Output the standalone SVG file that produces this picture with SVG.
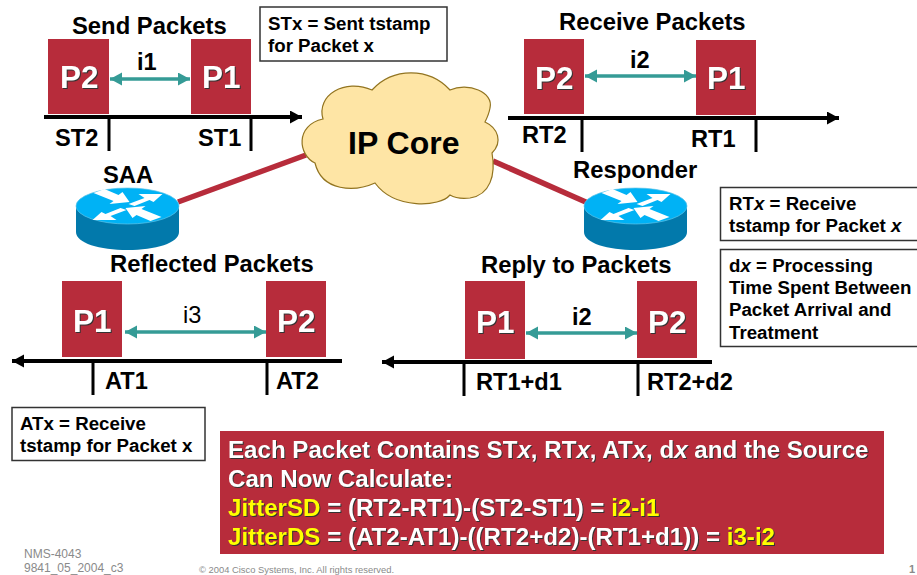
<svg xmlns="http://www.w3.org/2000/svg" width="917" height="575" viewBox="0 0 917 575">
<style>
text{font-family:"Liberation Sans",Arial,sans-serif;font-weight:bold;fill:#000}
.h{font-size:23.8px}
.l{font-size:23.6px}
.b{font-size:18.7px}
.p{font-size:31.5px;fill:#fff;filter:drop-shadow(1.5px 1.5px 0 #333)}
.pk{fill:#b72c3b}
.ax{stroke:#000;stroke-width:4;fill:none}
.tk{stroke:#000;stroke-width:3;fill:none}
.dbl{stroke:#359b96;stroke-width:3.500;fill:none;marker-start:url(#t);marker-end:url(#t)}
.box{fill:#fff;stroke:#333;stroke-width:1.500}
.lnk{stroke:#b72c3b;stroke-width:5.500;fill:none}
.w{font-size:24.120px;fill:#fff;filter:drop-shadow(1px 1px 0 #333)}
.y{fill:#ff0}
.g{font-weight:normal;fill:#8a8a8a}
</style>
<defs>
<marker id="a" markerUnits="userSpaceOnUse" markerWidth="13" markerHeight="14" refX="12" refY="6.500" orient="auto-start-reverse"><path d="M0 0L12 6.500L0 13z" fill="#000"/></marker>
<marker id="t" markerUnits="userSpaceOnUse" markerWidth="13" markerHeight="14" refX="12" refY="6.500" orient="auto-start-reverse"><path d="M0 0L12 6.500L0 13z" fill="#359b96"/></marker>
<g id="router">
<path d="M-51.500 1V27C-51.500 38 -28 45 0 45S51.500 38 51.500 27V1z" fill="#0279ab"/>
<ellipse cx="0" cy="1" rx="51.500" ry="18" fill="#00b2f5" stroke="#5fc4e8" stroke-width=".7"/>
<g fill="#fff">
<path d="M-34-12L-23-16L-9-10L-5-13L2-3L-18-1L-14-4z"/>
<path d="M1-1L17-7L11-11L35-11L26-3L22-5L7 1z"/>
<path d="M-1 5L-17 11L-11 15L-35 15L-26 7L-22 9L-7 3z"/>
<path d="M34 12L23 16L9 10L5 13L-2 3L18 1L14 4z"/>
</g>
</g>
</defs>

<g id="connectors">
<path class="lnk" d="M178 202L306 155"/>
<path class="lnk" d="M493 161L588 203"/>
<path class="ax" marker-end="url(#a)" d="M44 117H302"/>
<path class="ax" marker-end="url(#a)" d="M508 118H839"/>
<path class="ax" marker-end="url(#a)" d="M342 361H12"/>
<path class="ax" marker-end="url(#a)" d="M712 362H382"/>
<path class="tk" d="M109 117V151M251 117V151M582 118V152M756 118V152M93 361V395M267 361V395M464 362V396M638 362V396"/>
<path class="dbl" d="M110 79H190"/>
<path class="dbl" d="M585 76H696"/>
<path class="dbl" d="M125 332H266"/>
<path class="dbl" d="M526 333H637"/>
</g>

<g id="cloud">
<path d="M372 90A53 53 0 0 1 450 90C468 82 494 92 490 108C489 114 487 118 485 122C498 128 503 142 492 153C496 175 490 195 470 198C462 199 455 198 450 195C440 207 395 210 375 183C355 192 322 192 315 163C298 155 295 125 323 119C316 95 345 78 372 90z" fill="#fee5a5" stroke="#927420" stroke-width="1.200"/>
<text x="348" y="154" style="font-size:32px">IP Core</text>
</g>

<g id="saa"><use href="#router" x="127.500" y="205"/><text class="h" x="103" y="183">SAA</text></g>
<g id="responder"><use href="#router" x="635.500" y="205"/><text class="h" x="573" y="178">Responder</text></g>

<g id="send"><text class="h" x="72" y="34">Send Packets</text>
<rect class="pk" x="48" y="39" width="61" height="75"/><text class="p" x="60" y="88">P2</text>
<rect class="pk" x="191" y="39" width="60" height="75"/><text class="p" x="202" y="88">P1</text>
<text class="l" x="137" y="70">i1</text>
<text class="l" x="55" y="146">ST2</text><text class="l" x="198" y="146">ST1</text></g>

<g id="receive"><text class="h" x="559" y="30">Receive Packets</text>
<rect class="pk" x="524" y="39" width="60" height="75"/><text class="p" x="535" y="89">P2</text>
<rect class="pk" x="696" y="40" width="60" height="75"/><text class="p" x="707" y="89">P1</text>
<text class="l" x="630" y="68">i2</text>
<text class="l" x="522" y="143">RT2</text><text class="l" x="691" y="147">RT1</text></g>

<g id="reflected"><text class="h" x="110" y="272">Reflected Packets</text>
<rect class="pk" x="62" y="281" width="60" height="76"/><text class="p" x="73" y="332">P1</text>
<rect class="pk" x="266" y="281" width="60" height="76"/><text class="p" x="277" y="332">P2</text>
<text x="183" y="323" style="font-size:23.600px;font-weight:normal">i3</text>
<text class="l" x="105" y="389">AT1</text><text class="l" x="276" y="389">AT2</text></g>

<g id="reply"><text class="h" x="481" y="273">Reply to Packets</text>
<rect class="pk" x="465" y="281" width="60" height="78"/><text class="p" x="476" y="333">P1</text>
<rect class="pk" x="637" y="281" width="60" height="77"/><text class="p" x="648" y="333">P2</text>
<text class="l" x="572" y="325">i2</text>
<text class="l" x="476" y="390">RT1+d1</text><text class="l" x="647" y="390">RT2+d2</text></g>

<g id="stx"><rect class="box" x="260" y="7" width="187" height="54"/>
<text class="b" x="268" y="30">STx = Sent tstamp</text><text class="b" x="268" y="52">for Packet x</text></g>
<g id="rtx"><rect class="box" x="720.500" y="187.500" width="200" height="53"/>
<text class="b" x="729" y="210">RT<tspan font-style="italic">x</tspan> = Receive</text><text class="b" x="729" y="232">tstamp for Packet <tspan font-style="italic">x</tspan></text></g>
<g id="dx"><rect class="box" x="720.500" y="249.500" width="200" height="97"/>
<text class="b" x="729" y="272">d<tspan font-style="italic">x</tspan> = Processing</text><text class="b" x="729" y="294">Time Spent Between</text><text class="b" x="729" y="316">Packet Arrival and</text><text class="b" x="729" y="339">Treatment</text></g>
<g id="atx"><rect class="box" x="12" y="407.500" width="193" height="53"/>
<text class="b" x="20" y="430">ATx = Receive</text><text class="b" x="20" y="452">tstamp for Packet x</text></g>

<g id="note"><rect class="pk" x="220" y="431" width="664" height="123"/>
<text class="w" x="228" y="458">Each Packet Contains ST<tspan font-style="italic">x</tspan>, RT<tspan font-style="italic">x</tspan>, AT<tspan font-style="italic">x</tspan>, d<tspan font-style="italic">x</tspan> and the Source</text>
<text class="w" x="228" y="487">Can Now Calculate:</text>
<text class="w" x="228" y="516"><tspan class="y">JitterSD</tspan> = (RT2-RT1)-(ST2-ST1) = <tspan class="y">i2-i1</tspan></text>
<text class="w" x="228" y="545"><tspan class="y">JitterDS</tspan> = (AT2-AT1)-((RT2+d2)-(RT1+d1)) = <tspan class="y">i3-i2</tspan></text></g>

<g id="footer">
<text class="g" x="24" y="557.500" style="font-size:12px">NMS-4043</text>
<text class="g" x="24" y="572" style="font-size:12px">9841_05_2004_c3</text>
<text class="g" x="199" y="573" style="font-size:9.400px">© 2004 Cisco Systems, Inc. All rights reserved.</text>
<text x="909" y="573" style="font-size:11px;fill:#8a8a8a">1</text>
</g>
</svg>
